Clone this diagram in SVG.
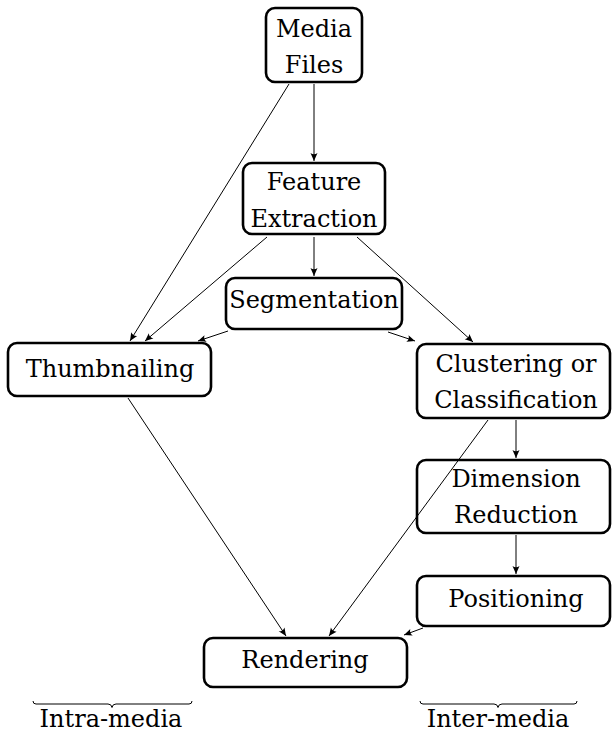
<svg xmlns="http://www.w3.org/2000/svg" width="613" height="733" viewBox="0 0 613 733">
<style>
.box{fill:none;stroke:#000;stroke-width:2.6}
.t{font-family:'DejaVu Serif',serif;font-size:24px;text-anchor:middle;fill:#000}
.e{stroke:#000;stroke-width:1;fill:none;marker-end:url(#ah)}
.br{stroke:#000;stroke-width:1;fill:none}
</style>
<defs>
<marker id="ah" markerUnits="userSpaceOnUse" markerWidth="12" markerHeight="10" viewBox="-9 -5 10 10" refX="0" refY="0" orient="auto">
<path d="M0,0 L-8,-3.5 Q-5.5,0 -8,3.5 Z" fill="#000"/>
</marker>
</defs>
<g id="media"><rect class="box" x="266" y="8" width="96" height="74" rx="9"/><text class="t" x="314" y="37">Media</text><text class="t" x="314" y="73">Files</text></g>
<g id="feature"><rect class="box" x="243" y="163" width="142" height="71" rx="9"/><text class="t" x="314" y="190">Feature</text><text class="t" x="314" y="227">Extraction</text></g>
<g id="segmentation"><rect class="box" x="226" y="278" width="176" height="51" rx="9"/><text class="t" x="314" y="308">Segmentation</text></g>
<g id="thumbnailing"><rect class="box" x="8" y="343" width="203" height="53" rx="9"/><text class="t" x="110" y="377">Thumbnailing</text></g>
<g id="clustering"><rect class="box" x="417" y="344" width="193" height="74" rx="9"/><text class="t" x="516" y="372">Clustering or</text><text class="t" x="516" y="408">Classification</text></g>
<g id="dimension"><rect class="box" x="417" y="460" width="193" height="73" rx="9"/><text class="t" x="516" y="487">Dimension</text><text class="t" x="516" y="523">Reduction</text></g>
<g id="positioning"><rect class="box" x="417" y="576" width="193" height="50" rx="9"/><text class="t" x="516" y="607">Positioning</text></g>
<g id="rendering"><rect class="box" x="204" y="638" width="203" height="49" rx="9"/><text class="t" x="305" y="668">Rendering</text></g>
<g id="intra"><path class="br" d="M33,701 q0,3 3,3 L108,704 q3.5,0 4,3.5 q0.5,-3.5 4,-3.5 L189,704 q3,0 3,-3"/><text class="t" x="111" y="727">Intra-media</text></g>
<g id="inter"><path class="br" d="M420,701 q0,3 3,3 L494,704 q3.5,0 4,3.5 q0.5,-3.5 4,-3.5 L574,704 q3,0 3,-3"/><text class="t" x="498" y="727">Inter-media</text></g>
<g id="connectors">
<line class="e" x1="314" y1="84" x2="314" y2="161"/>
<line class="e" x1="289" y1="84" x2="130" y2="341"/>
<line class="e" x1="267" y1="237" x2="145" y2="341"/>
<line class="e" x1="314" y1="237" x2="314" y2="276"/>
<line class="e" x1="357" y1="237" x2="473" y2="342"/>
<line class="e" x1="228" y1="331" x2="198" y2="341"/>
<line class="e" x1="388" y1="332" x2="415" y2="341"/>
<line class="e" x1="128" y1="398" x2="286" y2="636"/>
<line class="e" x1="488" y1="420" x2="329" y2="636"/>
<line class="e" x1="516" y1="420" x2="516" y2="458"/>
<line class="e" x1="516" y1="535" x2="516" y2="574"/>
<line class="e" x1="423" y1="628" x2="404" y2="635"/>
</g>
</svg>
